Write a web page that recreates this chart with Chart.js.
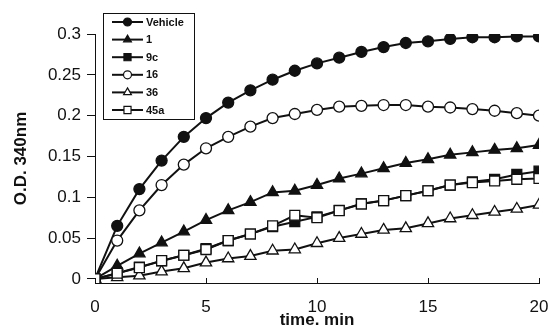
<!DOCTYPE html>
<html>
<head>
<meta charset="utf-8">
<script src="https://cdn.jsdelivr.net/npm/chart.js@4.4.1/dist/chart.umd.min.js"></script>
<style>
  html, body { margin: 0; padding: 0; background: #fff; }
  #wrap { width: 549px; height: 327px; position: relative; }
</style>
</head>
<body>
<div id="wrap"><canvas id="grafico"></canvas></div>
<script>
const tiempo = [0, 1, 2, 3, 4, 5, 6, 7, 8, 9, 10, 11, 12, 13, 14, 15, 16, 17, 18, 19, 20];
const vehicle = [0, 0.065, 0.110, 0.145, 0.174, 0.197, 0.216, 0.231, 0.244, 0.255, 0.264, 0.271, 0.278, 0.284, 0.289, 0.291, 0.294, 0.296, 0.296, 0.297, 0.297];
const comp1 = [0, 0.016, 0.031, 0.0445, 0.058, 0.072, 0.084, 0.094, 0.106, 0.108, 0.115, 0.123, 0.129, 0.1355, 0.142, 0.1465, 0.152, 0.155, 0.158, 0.160, 0.164];
const comp9c = [0, 0.007, 0.0145, 0.022, 0.029, 0.037, 0.047, 0.055, 0.064, 0.070, 0.076, 0.084, 0.092, 0.096, 0.102, 0.108, 0.115, 0.119, 0.122, 0.128, 0.132];
const comp16 = [0, 0.047, 0.084, 0.115, 0.140, 0.160, 0.174, 0.1865, 0.197, 0.202, 0.207, 0.211, 0.212, 0.213, 0.213, 0.211, 0.210, 0.208, 0.206, 0.203, 0.200];
const comp36 = [0, 0.002, 0.004, 0.009, 0.013, 0.020, 0.025, 0.028, 0.0345, 0.036, 0.0437, 0.050, 0.055, 0.060, 0.062, 0.068, 0.074, 0.078, 0.082, 0.0857, 0.0906];
const comp45a = [0, 0.007, 0.0138, 0.0224, 0.029, 0.036, 0.047, 0.055, 0.065, 0.078, 0.075, 0.0837, 0.0918, 0.0959, 0.102, 0.108, 0.115, 0.118, 0.120, 0.122, 0.123];
const xTicks = [0, 5, 10, 15, 20];
const yTicks = [0, 0.05, 0.1, 0.15, 0.2, 0.25, 0.3];

const FUENTE = "Arial, 'Liberation Sans', sans-serif";
const NEGRO = "#111";

// estilo de cada serie (nombre, datos, forma, relleno)
const series = [
  { nombre: "Vehicle", datos: vehicle, forma: "circle", relleno: NEGRO, r: 5.5, rl: 4 },
  { nombre: "1", datos: comp1, forma: "triangle", relleno: NEGRO, r: 6.5, rl: 4.5 },
  { nombre: "9c", datos: comp9c, forma: "rect", relleno: NEGRO, r: 7, rl: 5 },
  { nombre: "16", datos: comp16, forma: "circle", relleno: "#fff", r: 5.5, rl: 4 },
  { nombre: "36", datos: comp36, forma: "triangle", relleno: "#fff", r: 6.5, rl: 4.5 },
  { nombre: "45a", datos: comp45a, forma: "rect", relleno: "#fff", r: 7, rl: 5 }
];

const datasets = series.map((s, i) => ({
  label: s.nombre,
  data: tiempo.map((t, j) => ({ x: t, y: s.datos[j] })),
  borderColor: NEGRO,
  borderWidth: 2,
  pointStyle: s.forma,
  pointRadius: s.r,
  pointBackgroundColor: s.relleno,
  pointBorderColor: NEGRO,
  pointBorderWidth: 1.3,
  tension: 0,
  order: series.length - i
}));

// marcas del eje x hacia adentro + leyenda con recuadro
const extras = {
  id: "extras",
  afterDraw(chart) {
    const ctx = chart.ctx;
    const sx = chart.scales.x;
    const yb = chart.chartArea.bottom;
    ctx.save();
    ctx.strokeStyle = NEGRO;
    ctx.lineWidth = 1;
    xTicks.forEach(v => {
      const px = Math.round(sx.getPixelForValue(v)) + 0.5;
      ctx.beginPath();
      ctx.moveTo(px, yb);
      ctx.lineTo(px, yb - 5);
      ctx.stroke();
    });

    // leyenda
    const bx = 103, by = 13, bw = 91, bh = 106;
    ctx.fillStyle = "#fff";
    ctx.fillRect(bx, by, bw, bh);
    ctx.strokeStyle = NEGRO;
    ctx.strokeRect(bx + 0.5, by + 0.5, bw, bh);
    ctx.font = "bold 11px " + FUENTE;
    ctx.textBaseline = "middle";
    series.forEach((s, i) => {
      const y = 22 + i * 17.6;
      ctx.strokeStyle = NEGRO;
      ctx.lineWidth = 2;
      ctx.beginPath();
      ctx.moveTo(112, y);
      ctx.lineTo(143, y);
      ctx.stroke();
      ctx.fillStyle = s.relleno;
      ctx.lineWidth = 1.2;
      Chart.helpers.drawPoint(ctx, { pointStyle: s.forma, radius: s.rl, rotation: 0, borderWidth: 1.2 }, 127.5, y);
      ctx.fillStyle = NEGRO;
      ctx.fillText(s.nombre, 146, y + 0.5);
    });
    ctx.restore();
  }
};

new Chart(document.getElementById("grafico"), {
  type: "line",
  data: { datasets },
  options: {
    responsive: true,
    maintainAspectRatio: false,
    animation: false,
    layout: { padding: { top: 34, right: 0, left: 0, bottom: 0 } },
    plugins: { legend: { display: false }, tooltip: { enabled: false } },
    scales: {
      x: {
        type: "linear",
        min: 0,
        max: 20,
        afterBuildTicks: axis => { axis.ticks = xTicks.map(v => ({ value: v })); },
        afterFit: scale => { scale.height = 44; scale.paddingLeft = 0; scale.paddingRight = 10; },
        grid: { display: false },
        border: { display: true, color: NEGRO, width: 1 },
        ticks: { color: NEGRO, padding: 6, maxRotation: 0, font: { family: FUENTE, size: 17 } },
        title: { display: true, text: "time. min", color: NEGRO, padding: { top: 0, bottom: -4 }, font: { family: FUENTE, size: 17, weight: "bold" } }
      },
      y: {
        min: -0.005,
        max: 0.3,
        afterBuildTicks: axis => { axis.ticks = yTicks.map(v => ({ value: v })); },
        afterFit: scale => { scale.width = 95; },
        grid: { display: true, drawOnChartArea: false, drawTicks: true, tickLength: 8, color: NEGRO },
        border: { display: true, color: NEGRO, width: 1 },
        ticks: { color: NEGRO, padding: 6, font: { family: FUENTE, size: 17 }, callback: v => String(Math.round(v * 100) / 100) },
        title: { display: true, text: "O.D. 340nm", color: NEGRO, padding: { top: 11, bottom: 0 }, font: { family: FUENTE, size: 17, weight: "bold" } }
      }
    }
  },
  plugins: [extras]
});
</script>
</body>
</html>
